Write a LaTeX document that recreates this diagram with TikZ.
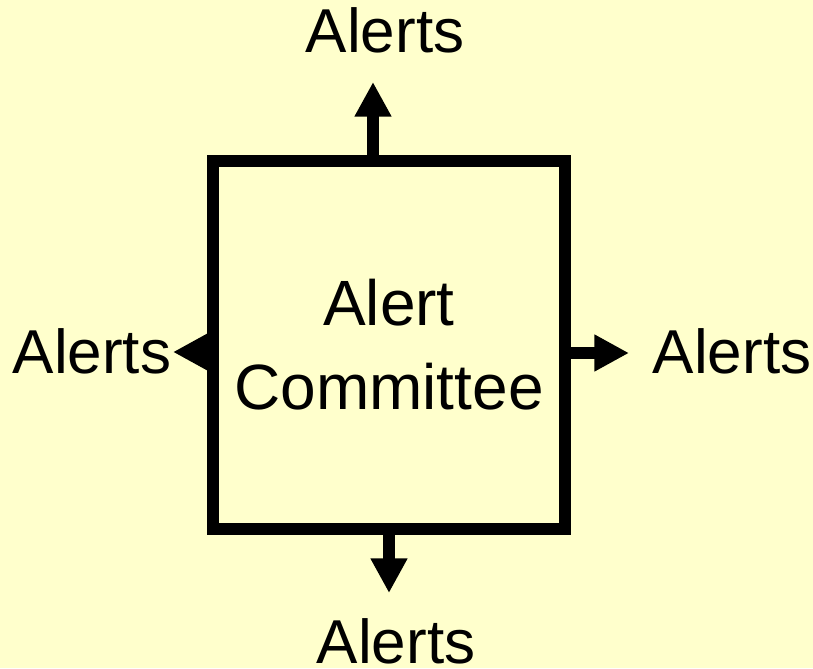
\documentclass[tikz,border=0pt]{standalone}
\usepackage{fontspec}
\setmainfont{Liberation Sans}
\usepackage{xcolor}
\usepackage{tikz}
\usetikzlibrary{arrows.meta}

\definecolor{paper}{HTML}{FFFFCC}

\tikzset{
	alerttext/.style={font=\fontsize{46.5}{63}\selectfont, inner sep=0pt, anchor=base},
	alertarrow/.style={line width=9pt, -{Triangle[length=26pt,width=26pt]}},
}

\begin{document}
\begin{tikzpicture}[x=0.75pt, y=-0.75pt]
			\useasboundingbox[fill=paper] (0,0) rectangle (813,668);
			\node[draw, line width=9pt, minimum width=264pt, minimum height=276pt, inner sep=0pt,
				align=center, font=\fontsize{48}{63}\selectfont] (committee) at (389,345) {Alert\\Committee};
			% the four outputs
			\node[alerttext] (alertsup) at (385,52) {Alerts};
			\node[alerttext] (alertsleft) at (92,373) {Alerts};
			\node[alerttext] (alertsright) at (732,373) {Alerts};
			\node[alerttext] (alertsdown) at (396,663) {Alerts};
			\coordinate (uptip) at (373,82);
			\coordinate (lefttip) at (173,352);
			\coordinate (righttip) at (629,353);
			\coordinate (downtip) at (389,593);
			\draw[alertarrow] (committee.north -| uptip) -- (uptip);
			\draw[alertarrow] (committee.west |- lefttip) -- (lefttip);
			\draw[alertarrow] (committee.east |- righttip) -- (righttip);
			\draw[alertarrow] (committee.south -| downtip) -- (downtip);
		\end{tikzpicture}
\end{document}
